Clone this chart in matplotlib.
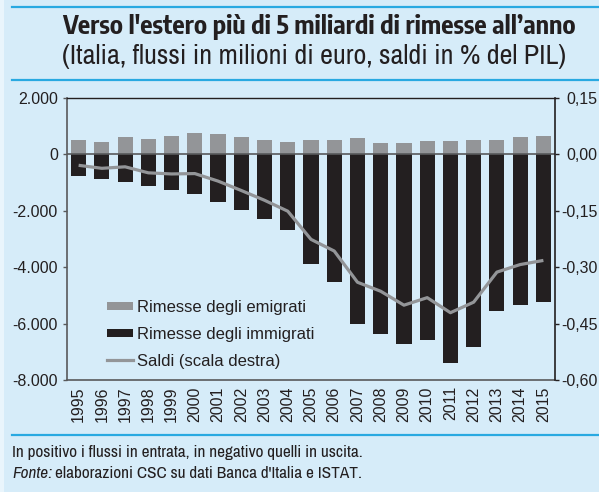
import matplotlib
matplotlib.use("Agg")
import matplotlib.pyplot as plt
from matplotlib.patches import Rectangle
from matplotlib.lines import Line2D
from matplotlib.ticker import FuncFormatter

years = list(range(1995, 2016))
emigrati = [507, 450, 614, 556, 663, 770, 709, 614, 507, 450,
            507, 507, 567, 414, 414, 461, 461, 507, 507, 614, 663]
immigrati = [-756, -862, -969, -1111, -1277, -1418, -1678, -1986, -2293, -2695,
             -3877, -4539, -6005, -6371, -6738, -6572, -7388, -6832, -5556, -5343, -5248]
saldi = [-0.029, -0.037, -0.033, -0.049, -0.052, -0.051, -0.071, -0.096, -0.122, -0.151,
         -0.226, -0.257, -0.340, -0.364, -0.401, -0.381, -0.421, -0.393, -0.313, -0.293, -0.282]
left_ticks = [2000, 0, -2000, -4000, -6000, -8000]
right_ticks = [0.15, 0.0, -0.15, -0.30, -0.45, -0.60]
labels = ["Rimesse degli emigrati", "Rimesse degli immigrati", "Saldi (scala destra)"]

BG = "#d6ecf9"
BLUE = "#29a9e1"
GREY = "#939598"
DARK = "#231f20"
TXT = "#231f20"
W, H = 599, 492
SANS = ['Liberation Sans', 'Arimo', 'DejaVu Sans']
NARROW = ['Archivo Narrow', 'DejaVu Sans']
BOLDN = ['Encode Sans Condensed', 'Archivo Narrow', 'DejaVu Sans']

plt.rcParams['font.family'] = SANS
fig = plt.figure(figsize=(W / 100, H / 100), dpi=100, facecolor=BG)
renderer = fig.canvas.get_renderer()


def fx(px):
    return px / W


def fy(py):
    return 1 - py / H


def fit(t, target_px):
    bb = t.get_window_extent(renderer)
    t.set_fontsize(t.get_fontsize() * target_px / bb.width)


# decorative lines
for yy in [7, 80, 435]:
    fig.add_artist(Line2D([fx(12), 1], [fy(yy), fy(yy)], color=BLUE, lw=1.6,
                          transform=fig.transFigure))
fig.add_artist(Rectangle((0, 0), fx(4), 1, transform=fig.transFigure,
                         facecolor="#e9f5fc", edgecolor="none"))

t1 = fig.text(fx(62), fy(34), "Verso l'estero più di 5 miliardi di rimesse all\u2019anno",
              ha="left", va="baseline", fontsize=14, fontweight="bold", family=BOLDN, color=TXT)
fit(t1, 514)
t2 = fig.text(fx(62), fy(64), "(Italia, flussi in milioni di euro, saldi in % del PIL)",
              ha="left", va="baseline", fontsize=14, family=NARROW, color=TXT)
fit(t2, 503)
f1 = fig.text(fx(12), fy(457), "In positivo i flussi in entrata, in negativo quelli in uscita.",
              ha="left", va="baseline", fontsize=12, family=NARROW, color=TXT)
fit(f1, 349)
fs = f1.get_fontsize()
f2 = fig.text(fx(12), fy(478), "Fonte:", ha="left", va="baseline", fontsize=fs,
              style="italic", family=NARROW, color=TXT)
bb = f2.get_window_extent(renderer)
fig.text(fx(bb.x1 + 3), fy(478), "elaborazioni CSC su dati Banca d'Italia e ISTAT.",
         ha="left", va="baseline", fontsize=fs, family=NARROW, color=TXT)

ax = fig.add_axes([fx(67), fy(380), fx(555 - 67), (380 - 98) / H])
ax.set_facecolor(BG)
x = list(range(len(years)))
ax.bar(x, emigrati, width=0.65, color=GREY, zorder=2)
ax.bar(x, immigrati, width=0.65, color=DARK, zorder=2)
ax.axhline(0, color="#58595b", lw=1.2, zorder=3)
ax.set_xlim(-0.5, len(years) - 0.5)
ax.set_ylim(-8000, 2000)
ax.set_yticks(left_ticks)
ax.yaxis.set_major_formatter(FuncFormatter(lambda v, p: f"{int(v):,}".replace(",", ".")))
ax.set_xticks(x)
ax.set_xticklabels([str(y) for y in years], rotation=90, fontsize=11.5, color=TXT)
ax.tick_params(axis="x", length=0, pad=4.5)
ax.tick_params(axis="y", length=3, width=1, color="#58595b", labelsize=11.5, pad=3.5,
               labelcolor=TXT)
for s in ["left", "bottom"]:
    ax.spines[s].set_color("#58595b")
    ax.spines[s].set_linewidth(1.2)
ax.spines["top"].set_color(DARK)
ax.spines["top"].set_linewidth(1.0)
ax.spines["right"].set_visible(False)

ax2 = ax.twinx()
ax2.plot(x, saldi, color=GREY, lw=2.3, zorder=4, solid_capstyle="butt")
ax2.set_ylim(-0.60, 0.15)
ax2.set_yticks(right_ticks)
ax2.yaxis.set_major_formatter(
    FuncFormatter(lambda v, p: f"{v:.2f}".replace(".", ",").replace("-0,00", "0,00")))
ax2.tick_params(axis="y", length=3, width=1, color=DARK, labelsize=11.5, pad=27.5,
                labelcolor=TXT)
for lab in ax2.get_yticklabels():
    lab.set_horizontalalignment("right")
for s in ["left", "bottom", "top"]:
    ax2.spines[s].set_visible(False)
ax2.spines["right"].set_color(DARK)
ax2.spines["right"].set_linewidth(1.2)

# legend (no frame), placed like the reference
rows_y = [306, 333, 360]
fig.add_artist(Rectangle((fx(107), fy(rows_y[0] + 4)), fx(26), 8 / H,
                         transform=fig.transFigure, facecolor=GREY, edgecolor="none"))
fig.add_artist(Rectangle((fx(107), fy(rows_y[1] + 4)), fx(26), 8 / H,
                         transform=fig.transFigure, facecolor=DARK, edgecolor="none"))
fig.add_artist(Line2D([fx(107), fx(133)], [fy(rows_y[2]), fy(rows_y[2])], color=GREY, lw=2.3,
                      transform=fig.transFigure))
for ry, lab in zip(rows_y, labels):
    t = fig.text(fx(137), fy(ry), lab, ha="left", va="center_baseline", fontsize=12,
                 color=TXT)

fig.savefig("out.png", dpi=100, facecolor=BG)
